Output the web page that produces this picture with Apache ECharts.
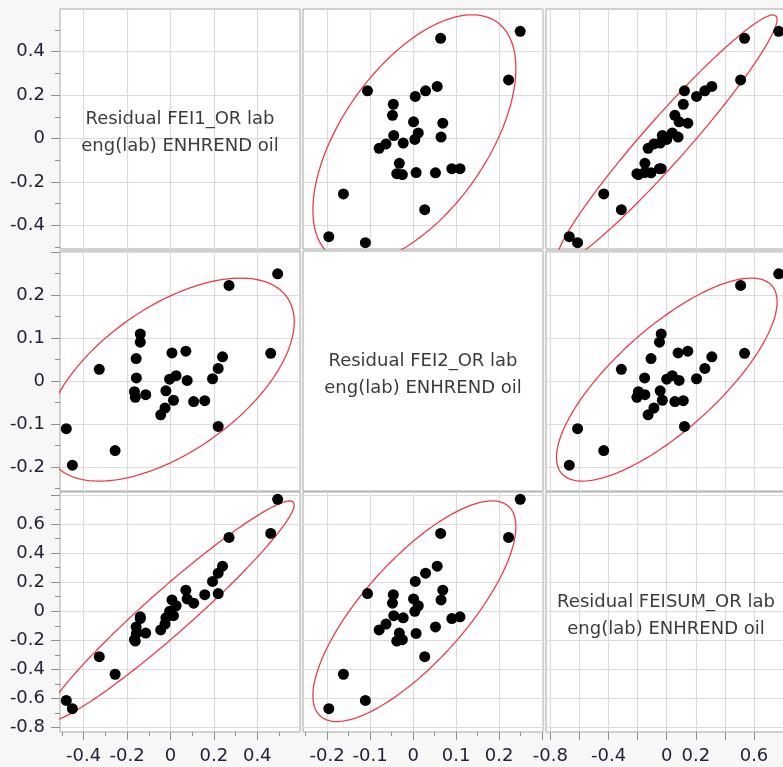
<!DOCTYPE html>
<html><head><meta charset="utf-8">
<script src="https://cdn.jsdelivr.net/npm/echarts@6/dist/echarts.min.js"></script>
<style>html,body{margin:0;padding:0;background:#f7f7f7}#c{width:783px;height:767px}</style>
</head><body><div id="c"></div>
<script>
// ---- data ----
const varNames = [
  'Residual FEI1_OR lab\neng(lab) ENHREND oil',
  'Residual FEI2_OR lab\neng(lab) ENHREND oil',
  'Residual FEISUM_OR lab\neng(lab) ENHREND oil'
];
const fei1 = [0.494, 0.270, 0.462, 0.240, 0.220, 0.194, 0.220, 0.158, 0.107, 0.077, 0.071, 0.007, 0.026, -0.004, 0.014, -0.021, -0.025, -0.045, -0.114, -0.162, -0.166, -0.157, -0.158, -0.139, -0.139, -0.328, -0.255, -0.452, -0.480];
const fei2 = [0.249, 0.222, 0.064, 0.056, 0.029, 0.005, -0.106, -0.046, -0.048, 0.001, 0.069, 0.065, 0.012, 0.004, -0.045, -0.023, -0.063, -0.079, -0.032, -0.038, -0.025, 0.007, 0.052, 0.090, 0.109, 0.027, -0.162, -0.196, -0.111];
const feisum = [0.770, 0.508, 0.535, 0.310, 0.262, 0.205, 0.122, 0.114, 0.056, 0.085, 0.145, 0.078, 0.038, 0.000, -0.030, -0.045, -0.088, -0.128, -0.150, -0.205, -0.195, -0.152, -0.108, -0.050, -0.038, -0.312, -0.433, -0.670, -0.613];

const axisMin = [-0.509, -0.256, -0.83];
const axisMax = [0.597, 0.302, 0.82];
const majorTicks = [
  [-0.4, -0.2, 0, 0.2, 0.4],
  [-0.2, -0.1, 0, 0.1, 0.2, 0.3],
  [-0.8, -0.6, -0.4, -0.2, 0, 0.2, 0.4, 0.6, 0.8]
];
const minorTicks = [
  [-0.5, -0.3, -0.1, 0.1, 0.3, 0.5],
  [-0.25, -0.15, -0.05, 0.05, 0.15, 0.25],
  [-0.7, -0.5, -0.3, -0.1, 0.1, 0.3, 0.5, 0.7]
];
const yLabelValues = [
  [-0.4, -0.2, 0, 0.2, 0.4],
  [-0.2, -0.1, 0, 0.1, 0.2],
  [-0.8, -0.6, -0.4, -0.2, 0, 0.2, 0.4, 0.6]
];
const xLabelValues = [
  [-0.4, -0.2, 0, 0.2, 0.4],
  [-0.2, -0.1, 0, 0.1, 0.2],
  [-0.8, -0.4, 0, 0.2, 0.6]
];
const xHasMinor = [true, true, false];
const ellipseProb = 0.95;

// ---- layout / style ----
const cellLeft = [60, 303, 546];
const cellTop = [9, 251, 492];
const cellSize = 240;
const FONT = 'DejaVu Sans';
const labelColor = '#22223a';
const gridColor = '#dcdcdc';
const tickColor = '#8f8f8f';
const vars = [fei1, fei2, feisum];

function fmt(v) { return String(+(+v).toFixed(3)); }

function ellipsePts(xs, ys) {
  const n = xs.length;
  let mx = 0, my = 0;
  for (let i = 0; i < n; i++) { mx += xs[i]; my += ys[i]; }
  mx /= n; my /= n;
  let sxx = 0, syy = 0, sxy = 0;
  for (let i = 0; i < n; i++) {
    const dx = xs[i] - mx, dy = ys[i] - my;
    sxx += dx * dx; syy += dy * dy; sxy += dx * dy;
  }
  sxx /= (n - 1); syy /= (n - 1); sxy /= (n - 1);
  const L11 = Math.sqrt(sxx), L21 = sxy / L11, L22 = Math.sqrt(Math.max(syy - L21 * L21, 0));
  const k = Math.sqrt(-2 * Math.log(1 - ellipseProb));
  const pts = [];
  for (let i = 0; i <= 240; i++) {
    const t = 2 * Math.PI * i / 240, a = Math.cos(t), b = Math.sin(t);
    pts.push([mx + k * L11 * a, my + k * (L21 * a + L22 * b)]);
  }
  return pts;
}

const grids = [], xAxes = [], yAxes = [], series = [], graphics = [];
for (let r = 0; r < 3; r++) {
  for (let c = 0; c < 3; c++) {
    const g = r * 3 + c;
    const blank = (r === 1 && c === 1);
    grids.push({
      left: cellLeft[c], top: cellTop[r], width: cellSize, height: cellSize,
      show: true, backgroundColor: '#ffffff', borderColor: '#a6a6a6', borderWidth: 1,
      containLabel: false, outerBoundsMode: 'none'
    });
    xAxes.push({
      type: 'value', gridIndex: g, min: axisMin[c], max: axisMax[c], position: 'bottom',
      axisLine: { show: false, onZero: false },
      axisTick: { show: r === 2, customValues: majorTicks[c], length: 8, lineStyle: { color: tickColor } },
      axisLabel: { show: r === 2, customValues: xLabelValues[c], margin: 15, fontSize: 18, fontFamily: FONT, color: labelColor, formatter: fmt },
      splitLine: { show: !blank, lineStyle: { color: gridColor, width: 1.2 } }
    });
    yAxes.push({
      type: 'value', gridIndex: g, min: axisMin[r], max: axisMax[r], position: 'left',
      axisLine: { show: false, onZero: false },
      axisTick: { show: c === 0, customValues: majorTicks[r], length: 9, lineStyle: { color: tickColor } },
      axisLabel: { show: c === 0, customValues: yLabelValues[r], margin: 15, fontSize: 18, fontFamily: FONT, color: labelColor, formatter: fmt },
      splitLine: { show: !blank, lineStyle: { color: gridColor, width: 1.2 } }
    });
    if (r === c) {
      graphics.push({
        type: 'text', x: cellLeft[c] + cellSize / 2, y: cellTop[r] + cellSize / 2 + 4, z: 100,
        style: { text: varNames[r], fontSize: 18, fontFamily: FONT, fill: '#3c3c3c', align: 'center', verticalAlign: 'middle', lineHeight: 27 }
      });
    } else {
      const xs = vars[c], ys = vars[r];
      series.push({
        type: 'line', xAxisIndex: g, yAxisIndex: g, data: ellipsePts(xs, ys),
        showSymbol: false, symbol: 'none', clip: true, silent: true, z: 2,
        lineStyle: { color: '#ee3b4b', width: 1.3 }
      });
      series.push({
        type: 'scatter', xAxisIndex: g, yAxisIndex: g, clip: true, z: 3,
        data: xs.map((v, i) => [v, ys[i]]),
        symbol: 'circle', symbolSize: 11, itemStyle: { color: '#000000', opacity: 1 }
      });
    }
  }
}
// minor-tick axes
for (let c = 0; c < 3; c++) {
  if (!xHasMinor[c]) continue;
  xAxes.push({
    type: 'value', gridIndex: 6 + c, min: axisMin[c], max: axisMax[c], position: 'bottom',
    axisLine: { show: false, onZero: false },
    axisTick: { show: true, customValues: minorTicks[c], length: 4, lineStyle: { color: tickColor } },
    axisLabel: { show: false }, splitLine: { show: false }
  });
}
for (let r = 0; r < 3; r++) {
  yAxes.push({
    type: 'value', gridIndex: r * 3, min: axisMin[r], max: axisMax[r], position: 'left',
    axisLine: { show: false, onZero: false },
    axisTick: { show: true, customValues: minorTicks[r], length: 5, lineStyle: { color: tickColor } },
    axisLabel: { show: false }, splitLine: { show: false }
  });
}

const chart = echarts.init(document.getElementById('c'), null, { renderer: 'canvas' });
chart.setOption({
  backgroundColor: '#f7f7f7',
  animation: false,
  grid: grids, xAxis: xAxes, yAxis: yAxes, series: series, graphic: graphics
});
</script></body></html>
